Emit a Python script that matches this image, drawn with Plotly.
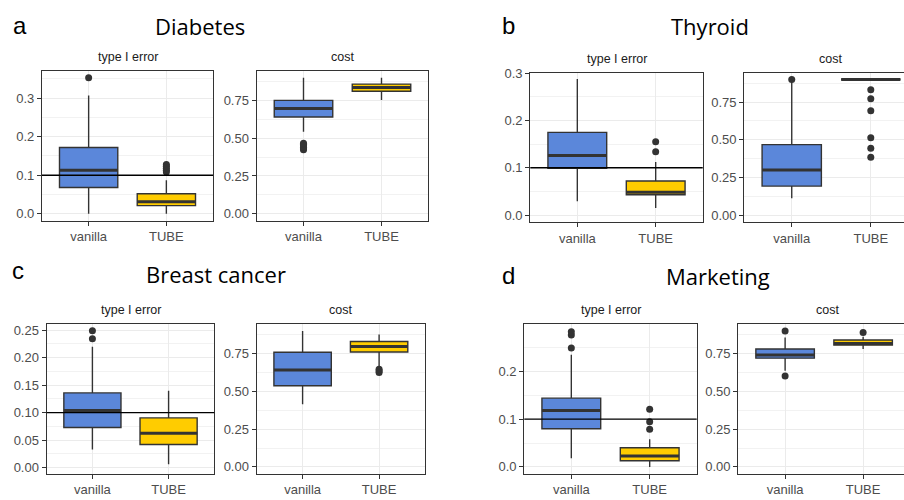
import plotly.graph_objects as go

datasets = ["Diabetes", "Thyroid", "Breast cancer", "Marketing"]
panel_letters = ["a", "b", "c", "d"]
groups = ["vanilla", "TUBE"]
metric_titles = ["type I error", "cost"]
target_error = 0.1

# type I error statistics, per dataset: [vanilla, TUBE]
err_low = [[0.0, 0.0], [0.029, 0.015], [0.033, 0.006], [0.018, 0.0]]
err_q1 = [[0.068, 0.021], [0.099, 0.043], [0.073, 0.042], [0.080, 0.013]]
err_med = [[0.113, 0.031], [0.126, 0.048], [0.104, 0.0625], [0.118, 0.0226]]
err_q3 = [[0.172, 0.052], [0.175, 0.072], [0.136, 0.0905], [0.144, 0.040]]
err_high = [[0.307, 0.087], [0.288, 0.112], [0.220, 0.140], [0.235, 0.058]]
err_out = [
    [[0.353], [0.108, 0.113, 0.118, 0.123, 0.128]],
    [[], [0.134, 0.155]],
    [[0.2345, 0.249], []],
    [[0.249, 0.276, 0.283], [0.079, 0.0945, 0.1205]],
]

# cost statistics, per dataset: [vanilla, TUBE]
cost_low = [[0.542, 0.752], [0.112, 0.90], [0.414, 0.668], [0.636, 0.780]]
cost_q1 = [[0.640, 0.811], [0.192, 0.90], [0.537, 0.761], [0.720, 0.806]]
cost_med = [[0.696, 0.835], [0.298, 0.90], [0.642, 0.797], [0.741, 0.817]]
cost_q3 = [[0.750, 0.858], [0.467, 0.90], [0.759, 0.830], [0.780, 0.840]]
cost_high = [[0.900, 0.900], [0.890, 0.90], [0.899, 0.877], [0.856, 0.862]]
cost_out = [
    [[0.423, 0.43, 0.44, 0.45, 0.46, 0.466], []],
    [[0.90], [0.383, 0.443, 0.512, 0.692, 0.772, 0.832]],
    [[], [0.625, 0.635, 0.647]],
    [[0.601, 0.90], [0.89]],
]

# ---------------- layout geometry (pixels) ----------------
W, H = 904, 500
# plot areas: (left, right, top, bottom)
areas = [
    (42, 213, 65, 217), (256.7, 428.3, 65, 217),
    (530.3, 702.7, 66.7, 218.3), (744.3, 904, 66.7, 218.3),
    (46.7, 214.3, 322.3, 474.3), (256.7, 425, 322.3, 474.3),
    (524.3, 696.7, 322.3, 474.3), (738.3, 904, 322.3, 474.3),
]
x_ranges = [[-0.6, 1.6]] * 8
x_ranges[3] = [-0.6, 1.42]
x_ranges[7] = [-0.6, 1.524]
y_ranges = [
    [-0.0177, 0.3707], [-0.045, 0.945],
    [-0.0144, 0.3014], [-0.045, 0.945],
    [-0.011, 0.261], [-0.045, 0.945],
    [-0.01425, 0.299], [-0.045, 0.945],
]
err_dticks = [0.1, 0.1, 0.05, 0.1]
err_fmt = [".1f", ".1f", ".2f", ".1f"]

colors = ["#5B87DA", "#FFCC00"]
dark = "#333333"
box_w = 0.75
tick_font = dict(family="Liberation Sans, Arial", size=13, color="#4D4D4D")

fig = go.Figure()
layout_axes = {}
shapes = []
annotations = []

stats = {
    0: (err_low, err_q1, err_med, err_q3, err_high, err_out),
    1: (cost_low, cost_q1, cost_med, cost_q3, cost_high, cost_out),
}

for d in range(4):
    for m in range(2):
        k = d * 2 + m
        n = k + 1
        xa = "x" if n == 1 else f"x{n}"
        ya = "y" if n == 1 else f"y{n}"
        low, q1, med, q3, high, outs = stats[m]
        for g in range(2):
            fig.add_trace(go.Box(
                x=[g], q1=[q1[d][g]], median=[med[d][g]], q3=[q3[d][g]],
                lowerfence=[low[d][g]], upperfence=[high[d][g]],
                width=box_w, whiskerwidth=0, boxpoints=False,
                fillcolor=colors[g], line=dict(color=dark, width=1.4),
                xaxis=xa, yaxis=ya, hoverinfo="skip", showlegend=False,
            ))
            fig.add_trace(go.Scatter(
                x=[g - box_w / 2, g + box_w / 2], y=[med[d][g], med[d][g]],
                mode="lines", line=dict(color=dark, width=3),
                xaxis=xa, yaxis=ya, hoverinfo="skip", showlegend=False,
            ))
            if outs[d][g]:
                fig.add_trace(go.Scatter(
                    x=[g] * len(outs[d][g]), y=outs[d][g], mode="markers",
                    marker=dict(color=dark, size=7),
                    xaxis=xa, yaxis=ya, hoverinfo="skip", showlegend=False,
                ))
        l, r, t, b = areas[k]
        right_cut = r >= W
        xkey = "xaxis" if n == 1 else f"xaxis{n}"
        ykey = "yaxis" if n == 1 else f"yaxis{n}"
        layout_axes[xkey] = dict(
            domain=[l / W, min(r / W, 1.0)], anchor=ya, range=x_ranges[k],
            tickmode="array", tickvals=[0, 1], ticktext=groups,
            showgrid=True, gridcolor="#EBEBEB", gridwidth=1.3,
            showline=True, linecolor=dark, linewidth=1.3, mirror=True,
            ticks="outside", ticklen=4, tickcolor=dark, tickwidth=1.1,
            tickfont=tick_font, zeroline=False, fixedrange=True,
        )
        if m == 0:
            dt, fmt = err_dticks[d], err_fmt[d]
        else:
            dt, fmt = 0.25, ".2f"
        layout_axes[ykey] = dict(
            domain=[1 - b / H, 1 - t / H], anchor=xa, range=y_ranges[k],
            tickmode="linear", tick0=0, dtick=dt, tickformat=fmt,
            showgrid=True, gridcolor="#EBEBEB", gridwidth=1.3,
            minor=dict(dtick=dt / 2, tick0=0, showgrid=True,
                       gridcolor="#F2F2F2", gridwidth=0.8, ticks=""),
            showline=True, linecolor=dark, linewidth=1.3, mirror=not right_cut,
            ticks="outside", ticklen=4, tickcolor=dark, tickwidth=1.1,
            tickfont=tick_font, zeroline=False, fixedrange=True,
        )
        if m == 0:
            shapes.append(dict(
                type="line", xref=f"{xa} domain", yref=ya, x0=0, x1=1,
                y0=target_error, y1=target_error,
                line=dict(color="black", width=1.4), layer="above",
            ))
        center_r = r + 13 if right_cut else r
        annotations.append(dict(
            text=metric_titles[m], x=(l + center_r) / 2 / W,
            y=1 - (t - 14) / H, xref="paper", yref="paper",
            xanchor="center", yanchor="middle", showarrow=False,
            font=dict(family="Liberation Sans, Arial", size=12.5, color="#1A1A1A"),
        ))

title_pos = [(200, 19), (710, 19), (216, 271), (718, 273)]
letter_pos = [(20, 19), (508, 19), (18, 268), (508, 273)]
for d in range(4):
    tx, ty = title_pos[d]
    annotations.append(dict(
        text=datasets[d], x=tx / W, y=1 - ty / H, xref="paper", yref="paper",
        xanchor="center", yanchor="middle", showarrow=False,
        font=dict(family="Open Sans", size=22, color="black"),
    ))
    lx, ly = letter_pos[d]
    annotations.append(dict(
        text=panel_letters[d], x=lx / W, y=1 - ly / H, xref="paper", yref="paper",
        xanchor="center", yanchor="middle", showarrow=False,
        font=dict(family="Liberation Sans, Arial", size=24, color="black"),
    ))

fig.update_layout(
    width=W, height=H, margin=dict(l=0, r=0, t=0, b=0),
    paper_bgcolor="white", plot_bgcolor="white", showlegend=False,
    shapes=shapes, annotations=annotations, **layout_axes,
)

fig.write_html(
    "out.html",
    config={"displayModeBar": False},
    post_script="document.body.style.margin='0px';document.body.style.overflow='hidden';",
)
